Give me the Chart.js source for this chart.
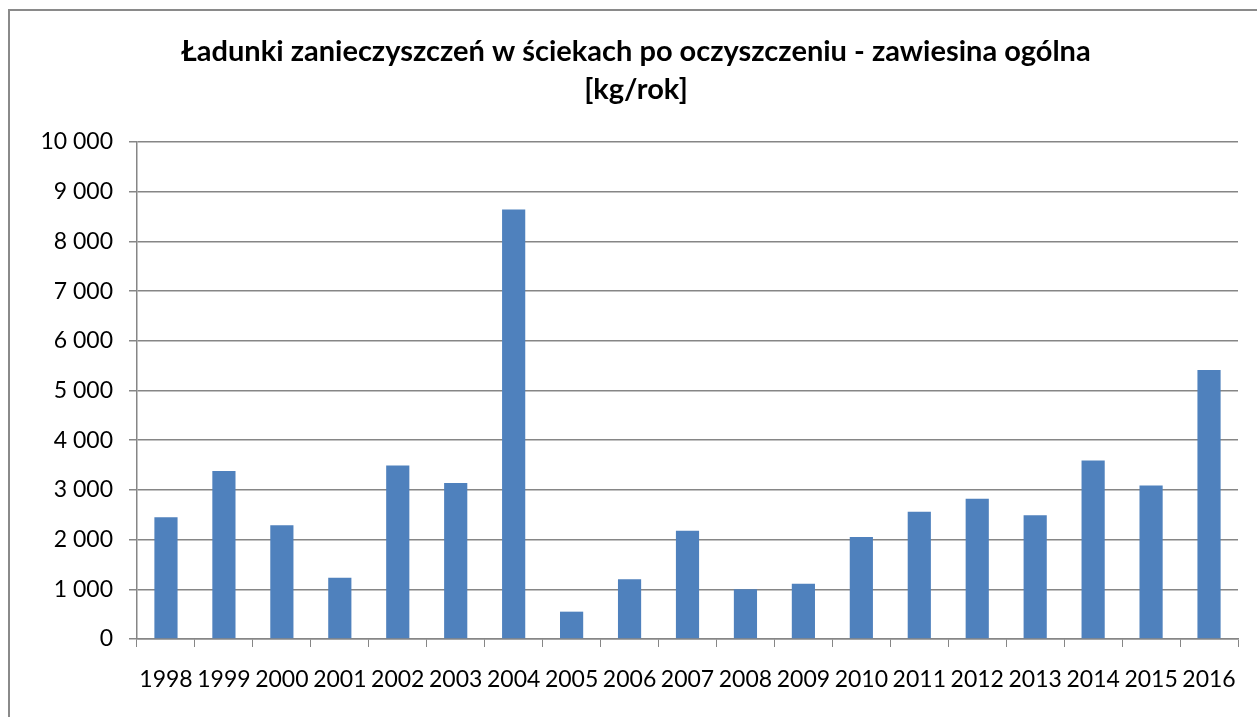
<!DOCTYPE html>
<html>
<head>
<meta charset="utf-8">
<script src="https://cdn.jsdelivr.net/npm/chart.js@4"></script>
<style>
  body { margin: 0; background: #fff; }
  canvas { display: block; }
</style>
</head>
<body>
<canvas id="chart" width="1257" height="717"></canvas>
<script>
var years = ["1998","1999","2000","2001","2002","2003","2004","2005","2006","2007",
             "2008","2009","2010","2011","2012","2013","2014","2015","2016"];
var loads = [2450, 3380, 2290, 1230, 3490, 3140, 8640, 550, 1200, 2180,
             1000, 1110, 2050, 2560, 2820, 2490, 3590, 3090, 5410];
var titleLines = ["Ładunki zanieczyszczeń w ściekach po oczyszczeniu - zawiesina ogólna", "[kg/rok]"];

var gridGray = "#868686";

function spaced(v) {
    return String(v).replace(/\B(?=(\d{3})+(?!\d))/g, " ");
}

// outer frame of the chart, only left and top edges are in view
var framePlugin = {
    id: "frame",
    beforeDraw: function(chart) {
        var ctx = chart.ctx;
        ctx.save();
        ctx.fillStyle = "#fff";
        ctx.fillRect(0, 0, chart.width, chart.height);
        ctx.strokeStyle = "#8a8a8a";
        ctx.lineWidth = 2;
        ctx.strokeRect(9, 10, chart.width + 20, chart.height + 20);
        ctx.restore();
    }
};

var config = {
    type: "bar",
    data: {
        labels: years,
        datasets: [{
            data: loads,
            backgroundColor: "#4F81BD",
            barPercentage: 0.4,
            categoryPercentage: 1.0
        }]
    },
    options: {
        responsive: false,
        animation: false,
        layout: { padding: { left: 34, right: 19, top: 0, bottom: 0 } },
        plugins: {
            legend: { display: false },
            tooltip: { enabled: false },
            title: {
                display: true,
                text: titleLines,
                color: "#000",
                font: { family: "Lato", size: 29, weight: "bold", lineHeight: 1.31 },
                padding: { top: 33, bottom: 33 }
            }
        },
        scales: {
            x: {
                grid: {
                    display: true,
                    drawOnChartArea: false,
                    drawTicks: true,
                    tickLength: 8,
                    color: gridGray,
                    offset: true
                },
                border: { display: true, color: gridGray, width: 1.5 },
                ticks: {
                    color: "#000",
                    font: { family: "Lato", size: 23 },
                    padding: 19,
                    maxRotation: 0,
                    autoSkip: false
                },
                afterFit: function(scale) { scale.height = 78; }
            },
            y: {
                min: 0,
                max: 10000,
                grid: { color: gridGray, lineWidth: 1.5, tickLength: 8 },
                border: { display: true, color: gridGray, width: 1.5 },
                ticks: {
                    stepSize: 1000,
                    color: "#000",
                    font: { family: "Lato", size: 23 },
                    padding: 16,
                    callback: function(v) { return spaced(v); }
                },
                afterFit: function(scale) { scale.width = 103; }
            }
        }
    },
    plugins: [framePlugin]
};

var loadsChart = new Chart(document.getElementById("chart"), config);
</script>
</body>
</html>
